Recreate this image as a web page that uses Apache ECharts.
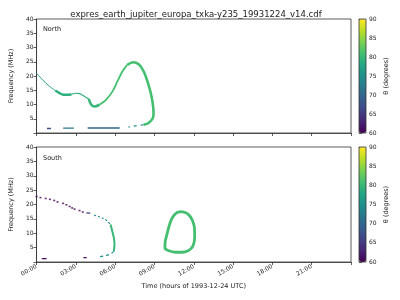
<!DOCTYPE html>
<html>
<head>
<meta charset="utf-8">
<script src="https://cdn.jsdelivr.net/npm/echarts@6/dist/echarts.min.js"></script>
<style>html,body{margin:0;padding:0;background:#fff}#c{width:400px;height:300px}</style>
</head>
<body>
<div id="c"></div>
<script>
// ---- data (hours, MHz), theta in degrees per segment ----
const xTicks = [0, 3, 6, 9, 12, 15, 18, 21, 24];
const yTicks = [5, 10, 15, 20, 25, 30, 35, 40];
const cbTicks = [60, 65, 70, 75, 80, 85, 90];

const northA = [[0, 21.0], [0.45, 18.7], [0.93, 16.6], [1.43, 14.9]];
const northB = [[1.43, 14.9], [1.75, 14.0], [2.05, 13.4], [2.4, 13.4], [2.67, 13.6]];
const northC = [[2.67, 13.6], [3.0, 13.95], [3.3, 13.8], [3.67, 12.8], [3.98, 12.0]];
const northD1 = [[3.98, 12.0], [4.18, 9.9], [4.43, 9.3], [4.8, 9.9]];
const northD2 = [[4.8, 9.9], [5.3, 11.65], [5.8, 14.6], [6.17, 18.1], [6.55, 21.6], [6.92, 23.9]];
const northD3 = [[6.92, 23.9], [7.37, 24.85], [7.8, 24.1], [8.18, 21.6], [8.55, 16.9], [8.8, 12.25], [8.93, 7.0], [8.88, 5.25], [8.55, 3.5], [8.18, 2.9]];
const northE = [[8.18, 2.9], [7.8, 2.65], [7.3, 2.3], [7.0, 2.1]];
const northLow1 = [[0.8, 1.6], [1.1, 1.6]];
const northLow2 = [[2.03, 1.7], [2.85, 1.7]];
const northLow3 = [[3.9, 1.75], [6.35, 1.75]];
const thetaNorth = {A: 76, B: 79, C: 79, D1: 80, D2: 81, D3: 81, E: 75, low1: 67, low2: 72, low3: 70};

const southDots = [[0, 22.75], [0.3, 22.4], [0.7, 22.1], [1.02, 21.8], [1.35, 21.4], [1.6, 20.9], [2.03, 20.4], [2.28, 19.9], [2.53, 19.3], [2.72, 18.8], [2.9, 18.4], [3.28, 17.9], [3.53, 17.4]];
const southBlue = [[3.8, 17.1], [4.1, 17.0]];
const southTeal = [[4.4, 16.3], [4.78, 15.75], [5.15, 15.05], [5.4, 14.2], [5.65, 13.05]];
const southGreen = [[5.65, 13.05], [5.78, 10.7], [5.9, 8.4], [5.95, 6.05], [5.9, 3.7]];
const southBottom = [[5.9, 3.7], [5.65, 2.8], [5.27, 2.2], [4.78, 1.85]];
const southLow1 = [[0.4, 1.15], [0.77, 1.15]];
const southLow2 = [[3.58, 1.5], [3.83, 1.5]];
const southLoop = [[10.93, 17.5], [11.35, 17.2], [11.7, 16.0], [11.95, 13.8], [12.05, 11.9], [12.07, 8.5], [11.93, 5.5], [11.6, 4.0], [11.1, 3.4], [10.6, 3.4], [10.05, 4.0], [9.8, 5.0], [9.82, 7.1], [9.92, 9.0], [10.09, 12.0], [10.3, 14.8], [10.58, 16.7], [10.93, 17.5]];
const thetaSouth = {dots: 60, blue: 66, teal: 74, green: 80, bottom: 75, low1: 61, low2: 61, loop: 81};

// ---- viridis ----
const viridis = ['#440154', '#482475', '#414487', '#355f8d', '#2a788e', '#21918c', '#22a884', '#44bf70', '#7ad151', '#bddf26', '#fde725'];
function hex(c) { return [1, 3, 5].map(i => parseInt(c.substr(i, 2), 16)); }
function vcol(theta) {
  let t = Math.max(0, Math.min(1, (theta - 60) / 30)) * 10;
  const i = Math.min(9, Math.floor(t)), f = t - i;
  const a = hex(viridis[i]), b = hex(viridis[i + 1]);
  const r = a.map((v, k) => Math.round(v + (b[k] - v) * f));
  return 'rgb(' + r.join(',') + ')';
}

const FONT = 'DejaVu Sans';
const txt = '#222';

function lineSeries(data, theta, grid, width, opts) {
  return Object.assign({
    type: 'line', xAxisIndex: grid, yAxisIndex: grid, data: data,
    showSymbol: false, smooth: 0.3, silent: true, animation: false,
    lineStyle: {color: vcol(theta), width: width}
  }, opts || {});
}

function mainX(i, showLabels) {
  return {
    type: 'value', gridIndex: i, min: 0, max: 24, interval: 3,
    axisLine: {show: true, lineStyle: {color: '#333', width: 0.8}},
    axisTick: {show: true, inside: false, length: 3, lineStyle: {color: '#333', width: 0.8}},
    splitLine: {show: false},
    axisLabel: {show: showLabels, rotate: 30, fontSize: 6, color: txt, fontFamily: FONT, margin: 4,
      formatter: v => v >= 24 ? '' : String(v).padStart(2, '0') + ':00'},
    name: showLabels ? 'Time (hours of 1993-12-24 UTC)' : '',
    nameLocation: 'middle', nameGap: 21,
    nameTextStyle: {fontSize: 6.5, color: txt, fontFamily: FONT}
  };
}
function mainY(i) {
  return {
    type: 'value', gridIndex: i, min: 0, max: 40, interval: 5,
    axisLine: {show: true, lineStyle: {color: '#333', width: 0.8}},
    axisTick: {show: true, inside: false, length: 3, lineStyle: {color: '#333', width: 0.8}},
    splitLine: {show: false},
    axisLabel: {fontSize: 6, color: txt, fontFamily: FONT, margin: 3, formatter: v => v === 0 ? '' : String(v)},
    name: 'Frequency (MHz)', nameLocation: 'middle', nameGap: 17, nameRotate: 90,
    nameTextStyle: {fontSize: 6.5, color: txt, fontFamily: FONT}
  };
}
function cbX(i) { return {type: 'value', gridIndex: i, show: false, min: 0, max: 1}; }
function cbY(i) {
  return {
    type: 'value', gridIndex: i, position: 'right', min: 60, max: 90, interval: 5,
    axisLine: {show: false}, splitLine: {show: false},
    axisTick: {show: true, inside: false, length: 3, lineStyle: {color: '#333', width: 0.8}},
    axisLabel: {fontSize: 6, color: txt, fontFamily: FONT, margin: 3},
    name: 'θ (degrees)', nameLocation: 'middle', nameGap: 17, nameRotate: 90,
    nameTextStyle: {fontSize: 6.5, color: txt, fontFamily: FONT}
  };
}

const series = [
  // North (grid 0)
  lineSeries(northA, thetaNorth.A, 0, 1),
  lineSeries(northB, thetaNorth.B, 0, 2.4),
  lineSeries(northC, thetaNorth.C, 0, 1.2),
  lineSeries(northD1, thetaNorth.D1, 0, 2.6),
  lineSeries(northD2, thetaNorth.D2, 0, 1.8),
  lineSeries(northD3, thetaNorth.D3, 0, 2.6),
  lineSeries(northE, thetaNorth.E, 0, 1.2, {lineStyle: {color: vcol(thetaNorth.E), width: 1.2, type: [3, 4]}}),
  lineSeries(northLow1, thetaNorth.low1, 0, 1.4, {smooth: false}),
  lineSeries(northLow2, thetaNorth.low2, 0, 1.4, {smooth: false}),
  lineSeries(northLow3, thetaNorth.low3, 0, 1.4, {smooth: false}),
  // South (grid 1)
  {type: 'scatter', xAxisIndex: 1, yAxisIndex: 1, silent: true, animation: false,
   data: southDots, symbol: 'rect', symbolSize: [2, 1.6], itemStyle: {color: vcol(thetaSouth.dots)}},
  lineSeries(southBlue, thetaSouth.blue, 1, 1.3, {smooth: false}),
  lineSeries(southTeal, thetaSouth.teal, 1, 1.2, {lineStyle: {color: vcol(thetaSouth.teal), width: 1.2, type: [2, 2]}}),
  lineSeries(southGreen, thetaSouth.green, 1, 2),
  lineSeries(southBottom, thetaSouth.bottom, 1, 1.2, {lineStyle: {color: vcol(thetaSouth.bottom), width: 1.2, type: [3, 3]}}),
  lineSeries(southLow1, thetaSouth.low1, 1, 1.3, {smooth: false}),
  lineSeries(southLow2, thetaSouth.low2, 1, 1.3, {smooth: false}),
  lineSeries(southLoop, thetaSouth.loop, 1, 2.8, {smooth: 0.45}),
  // colourbar carriers
  {type: 'scatter', xAxisIndex: 2, yAxisIndex: 2, data: [], silent: true},
  {type: 'scatter', xAxisIndex: 3, yAxisIndex: 3, data: [], silent: true}
];

const GRID_T = {left: 31, top: 19, width: 320, height: 114};
const GRID_B = {left: 31, top: 147, width: 320, height: 115};
const CB_T = {left: 359, top: 19, width: 7, height: 114};
const CB_B = {left: 359, top: 147, width: 7, height: 115};

function vm(cb, sIdx) {
  return {
    type: 'continuous', min: 60, max: 90, calculable: false, seriesIndex: sIdx, dimension: 1,
    left: cb.left, top: cb.top, itemWidth: cb.width, itemHeight: cb.height, padding: 0,
    text: null, showLabel: false, realtime: false, hoverLink: false,
    inRange: {color: viridis}
  };
}

const option = {
  backgroundColor: '#fff',
  animation: false,
  title: [
    {text: 'expres_earth_jupiter_europa_txka-y235_19931224_v14.cdf', left: 191, top: 5, textAlign: 'center',
     textStyle: {fontSize: 8.5, fontWeight: 'normal', color: txt, fontFamily: FONT}},
    {text: 'North', left: 43, top: 26, padding: 0, textStyle: {fontSize: 6.5, fontWeight: 'normal', color: txt, fontFamily: FONT}},
    {text: 'South', left: 43, top: 155, padding: 0, textStyle: {fontSize: 6.5, fontWeight: 'normal', color: txt, fontFamily: FONT}}
  ],
  grid: [
    Object.assign({show: true, borderColor: '#333', borderWidth: 0.8, backgroundColor: 'transparent'}, GRID_T),
    Object.assign({show: true, borderColor: '#333', borderWidth: 0.8, backgroundColor: 'transparent'}, GRID_B),
    Object.assign({show: true, borderColor: '#333', borderWidth: 0.8, backgroundColor: 'transparent', z: 10}, CB_T),
    Object.assign({show: true, borderColor: '#333', borderWidth: 0.8, backgroundColor: 'transparent', z: 10}, CB_B)
  ],
  xAxis: [mainX(0, false), mainX(1, true), cbX(2), cbX(3)],
  yAxis: [mainY(0), mainY(1), cbY(2), cbY(3)],
  visualMap: [vm(CB_T, 18), vm(CB_B, 19)],
  series: series
};

const chart = echarts.init(document.getElementById('c'), null, {renderer: 'canvas'});
chart.setOption(option);
</script>
</body>
</html>
